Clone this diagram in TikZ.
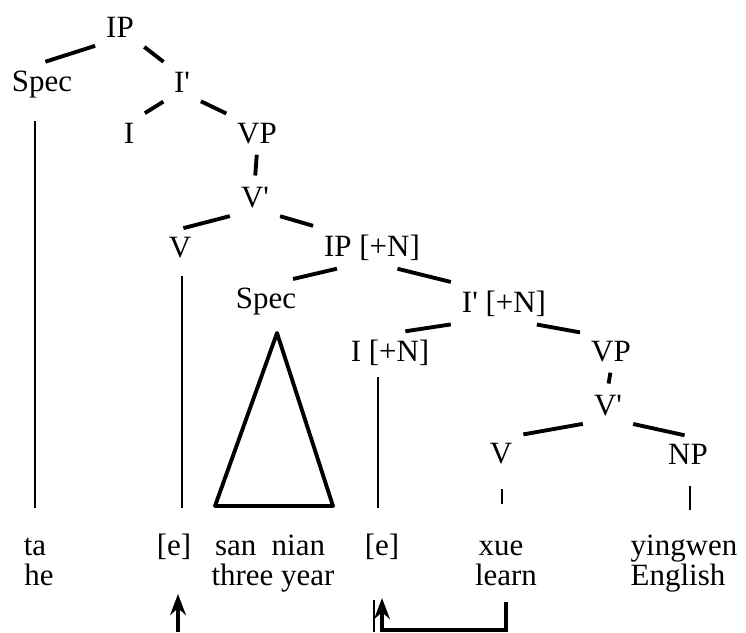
\documentclass[tikz,border=0pt]{standalone}
\usepackage{fontspec}
\setmainfont{Liberation Serif}
\usetikzlibrary{arrows.meta}
\newcommand\barmark{\textquotesingle}

\begin{document}
\begin{tikzpicture}[x=0.01cm,y=-0.01cm,
  cat/.style={inner sep=2pt,anchor=base,font=\fontsize{8.8}{10}\selectfont},
  branch/.style={line width=1.1pt,shorten <=1pt,shorten >=1pt},
  leaf/.style={line width=.75pt},
  move/.style={line width=.9pt,-{Stealth[length=6pt,width=4.5pt]}}]
\useasboundingbox[fill=white] (0,0) rectangle (746,632);
% matrix clause
\node[cat] (ip) at (120,37){IP};
\node[cat] (spec) at (42,91){Spec};
\node[cat] (ibar) at (182,92){I\barmark};
\node[cat] (infl) at (129,143){I};
\node[cat] (vp) at (257,143){VP};
\node[cat] (vbar) at (255,207){V\barmark};
\node[cat] (v) at (180,257){V};
% embedded clause
\node[cat] (ipn) at (372,256){IP [+N]};
\node[cat] (spec2) at (266,308){Spec};
\node[cat] (ibarn) at (504,312){I\barmark{} [+N]};
\node[cat] (infln) at (390,361){I [+N]};
\node[cat] (vp2) at (611,361){VP};
\node[cat] (vbar2) at (608,415){V\barmark};
\node[cat] (v2) at (501,463){V};
\node[cat] (np) at (688,464){NP};
% words and glosses
\node[cat] (ta) at (35,555){ta};
\node[cat] (e1) at (174,555){[e]};
\node[cat] (sannian) at (270,555){san\enspace nian};
\node[cat] (e2) at (382,555){[e]};
\node[cat] (xue) at (501,555){xue};
\node[cat,anchor=base east] (yingwen) at (745,555){yingwen};
\node[cat] (he) at (39,585){he};
\node[cat] (threeyear) at (273,585){three year};
\node[cat] (learn) at (506,585){learn};
\node[cat,anchor=base east] (english) at (733,585){English};

\draw[branch] (ip.south west)--(spec.north);
\draw[branch] (ip.south east)--(ibar.north west);
\draw[branch] (ibar.south west)--(infl.north east);
\draw[branch] (ibar.south east)--(vp.north west);
\draw[branch] (vp.south)--(vbar.north);
\draw[branch] (vbar.south west)--(v.north);
\draw[branch] (vbar.south east)--(ipn.north west);
\draw[branch] (ipn.213)--(spec2.42);
\draw[branch] (ipn.317)--(ibarn.north west);
\draw[branch] (ibarn.south west)--(infln.60);
\draw[branch] (ibarn.325)--(vp2.north west);
\draw[branch] (vp2.south)--(vbar2.north);
\draw[branch] (vbar2.south west)--(v2.north east);
\draw[branch] (vbar2.south east)--(np.north);

% lines down to the words
\coordinate (wordtop) at (0,508);
\draw[leaf] (ta |- spec.south) ++(0,16)--(ta |- wordtop);
\draw[leaf] (v.south) ++(2,11)--(182,508);
\draw[leaf] (378,377)--(378,508);
\draw[leaf] (v2.south) ++(1,18)--(502,504);
\draw[leaf] (np.south) ++(2,14)--(690,510);
\coordinate (apex) at (277,333);
\coordinate (bl) at (215,506);
\coordinate (br) at (333,506);
\draw[line width=1.1pt,line join=round] (apex)--(bl)--(br)--cycle;

% movement
\coordinate (t1) at (178,594);
\coordinate (b1) at (178,632);
\draw[move] (b1)--(t1);
\coordinate (bar1) at (374,600);
\coordinate (bar2) at (374,632);
\draw[leaf] (bar1)--(bar2);
\coordinate (t2) at (382,598);
\coordinate (lrn) at (506,602);
\coordinate (floor) at (0,630);
\draw[move] (lrn)--(lrn |- floor)-|(t2);
\end{tikzpicture}
\end{document}
